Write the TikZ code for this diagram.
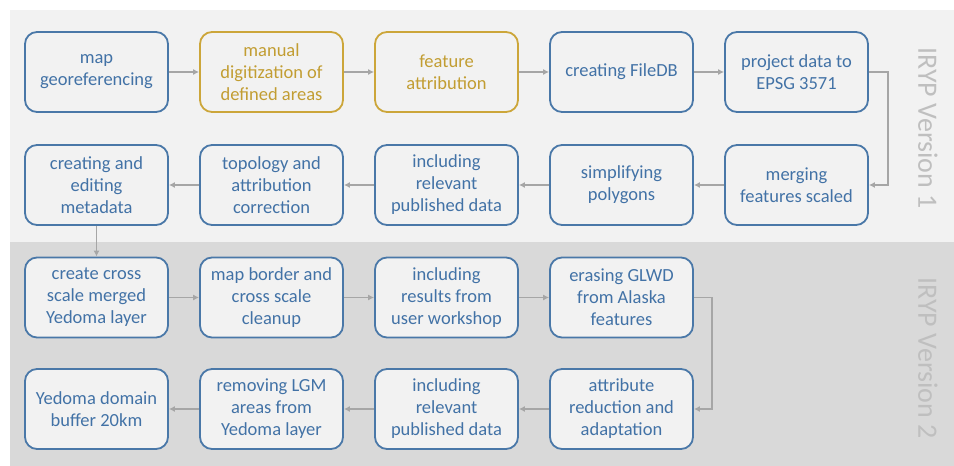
\documentclass[tikz,border=0pt]{standalone}
\usepackage{fontspec}
\setmainfont{Carlito}
\usetikzlibrary{arrows.meta}
\definecolor{bluebd}{HTML}{4A78A8}
\definecolor{bluetx}{HTML}{4272A6}
\definecolor{goldbd}{HTML}{CCA63A}
\definecolor{goldtx}{HTML}{C29D32}
\definecolor{flowgray}{HTML}{A6A6A6}
\definecolor{panelone}{HTML}{F2F2F2}
\definecolor{paneltwo}{HTML}{D9D9D9}
\definecolor{labelgray}{HTML}{BFBFBF}
\tikzset{
  task/.style={draw=bluebd, text=bluetx, line width=1.8bp, rounded corners=12bp,
    minimum width=143bp, minimum height=80bp, align=center,
    font=\fontsize{18.5bp}{22bp}\selectfont},
  manual/.style={task, draw=goldbd, text=goldtx},
  flow/.style={draw=flowgray, line width=1.5bp, -{Latex[length=6bp,width=6bp]}},
  version/.style={text=labelgray, rotate=-90, font=\fontsize{28bp}{32bp}\selectfont}
}
\begin{document}
\begin{tikzpicture}[x=1bp,y=-1bp]
      \useasboundingbox (0,0) rectangle (954,466);
      \fill[panelone] (10,10) rectangle (954,242);
      \fill[paneltwo] (10,242) rectangle (954,466);
      % IRYP version 1
      \path
        (96.5,72) node[task, fill=panelone] (georef){map\\georeferencing}
        (271.5,72) node[manual, fill=panelone] (digit){manual\\digitization of\\defined areas}
        (446.5,72) node[manual, fill=panelone] (attrib){feature\\attribution}
        (621.5,72) node[task, fill=panelone] (filedb){creating FileDB}
        (796.5,72) node[task, fill=panelone] (project){project data to\\EPSG 3571}
        (796.5,185) node[task, fill=panelone] (merging){merging\\features scaled}
        (621.5,185) node[task, fill=panelone] (simplify){simplifying\\polygons}
        (446.5,185) node[task, fill=panelone] (relevant){including\\relevant\\published data}
        (271.5,185) node[task, fill=panelone] (topology){topology and\\attribution\\correction}
        (96.5,185) node[task, fill=panelone] (metadata){creating and\\editing\\metadata};
      % IRYP version 2
      \path
        (96.5,297.5) node[task, fill=panelone] (cross){create cross\\scale merged\\Yedoma layer}
        (271.5,297.5) node[task, fill=panelone] (border){map border and\\cross scale\\cleanup}
        (446.5,297.5) node[task, fill=panelone] (workshop){including\\results from\\user workshop}
        (621.5,297.5) node[task, fill=panelone] (glwd){erasing GLWD\\from Alaska\\features}
        (621.5,409) node[task, fill=panelone] (reduction){attribute\\reduction and\\adaptation}
        (446.5,409) node[task, fill=panelone] (relevant2){including\\relevant\\published data}
        (271.5,409) node[task, fill=panelone] (lgm){removing LGM\\areas from\\Yedoma layer}
        (96.5,409) node[task, fill=panelone] (buffer){Yedoma domain\\buffer 20km};
      \node[version] (v1) at (928,128) {IRYP Version 1};
      \node[version] (v2) at (928,358) {IRYP Version 2};
      \begin{scope}[flow]
        \draw (georef) to (digit);
        \draw (digit) to (attrib);
        \draw (attrib) to (filedb);
        \draw (filedb) to (project);
        \draw (project.east) -- ++(19,0) |- (merging.east);
        \draw (merging) to (simplify);
        \draw (simplify) to (relevant);
        \draw (relevant) to (topology);
        \draw (topology) to (metadata);
        \draw (metadata) to (cross);
        \draw (cross) to (border);
        \draw (border) to (workshop);
        \draw (workshop) to (glwd);
        \draw (glwd.east) -- ++(18,0) |- (reduction.east);
        \draw (reduction) to (relevant2);
        \draw (relevant2) to (lgm);
        \draw (lgm) to (buffer);
      \end{scope}
    \end{tikzpicture}
\end{document}
